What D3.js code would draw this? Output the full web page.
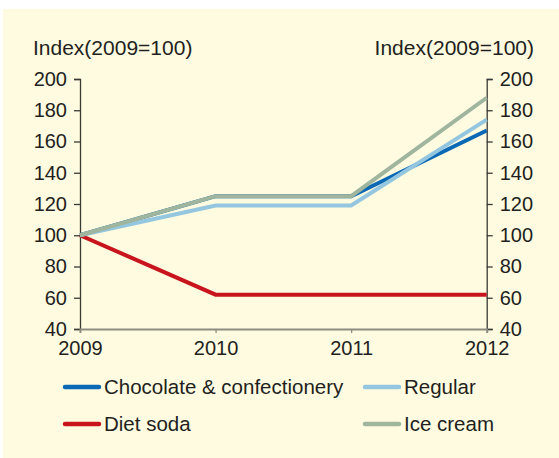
<!DOCTYPE html>
<html>
<head>
<meta charset="utf-8">
<script src="https://cdn.jsdelivr.net/npm/d3@7"></script>
<style>
  html, body { margin: 0; padding: 0; background: #ffffff; }
  svg { display: block; }
  text { font-family: "Liberation Sans", Arial, sans-serif; fill: #231f20; }
</style>
</head>
<body>
<svg id="chart" width="559" height="458"></svg>
<script>
// Price index by product, 2009 = 100
const years = ["2009", "2010", "2011", "2012"];
const chocolate = [100, 125, 125, 167];
const regular = [100, 119, 119, 174];
const dietSoda = [100, 62, 62, 62];
const iceCream = [100, 125, 125, 188];
const yTicks = [40, 60, 80, 100, 120, 140, 160, 180, 200];
const axisTitle = "Index(2009=100)";

const series = [
  { name: "Chocolate & confectionery", values: chocolate, color: "#0a68b4" },
  { name: "Diet soda", values: dietSoda, color: "#c8151d" },
  { name: "Regular", values: regular, color: "#94c6df" },
  { name: "Ice cream", values: iceCream, color: "#9fb59e" }
];

const svg = d3.select("#chart");

// panel background
svg.append("rect")
  .attr("x", 3).attr("y", 9)
  .attr("width", 556).attr("height", 449)
  .attr("fill", "#fefbe0");

const plotLeft = 80, plotRight = 486.7, plotTop = 79, plotBottom = 329;

const x = d3.scalePoint().domain(years).range([plotLeft, plotRight]);
const y = d3.scaleLinear().domain([40, 200]).range([plotBottom, plotTop]);

// left axis
const gl = svg.append("g").attr("transform", `translate(${plotLeft},0)`)
  .call(d3.axisLeft(y).tickValues(yTicks).tickSize(6).tickPadding(7));
// right axis
const gr = svg.append("g").attr("transform", `translate(${plotRight},0)`)
  .call(d3.axisRight(y).tickValues(yTicks).tickSize(6).tickPadding(7));
[gl, gr].forEach(g => {
  g.select(".domain").attr("stroke", "#3a3a36").attr("stroke-width", 1.3);
  g.selectAll(".tick line").attr("stroke", "#3a3a36").attr("stroke-width", 1.3);
  g.selectAll(".tick text")
    .attr("font-size", 20).attr("fill", "#231f20")
    .attr("font-family", "Liberation Sans, Arial, sans-serif");
});

// bottom axis
const gb = svg.append("g").attr("transform", `translate(0,${plotBottom})`)
  .call(d3.axisBottom(x).tickSize(4).tickPadding(8));
gb.select(".domain").attr("stroke", "#8d8c82").attr("stroke-width", 2);
gb.selectAll(".tick line").attr("stroke", "#8d8c82").attr("stroke-width", 1.3)
  .attr("display", (d, i) => (i === 0 || i === years.length - 1) ? "none" : null);
gb.selectAll(".tick text")
  .attr("font-size", 20).attr("fill", "#231f20")
  .attr("font-family", "Liberation Sans, Arial, sans-serif");

// axis titles
svg.append("text").attr("x", 33).attr("y", 55)
  .attr("font-size", 21).text(axisTitle);
svg.append("text").attr("x", 534).attr("y", 55)
  .attr("font-size", 21).attr("text-anchor", "end").text(axisTitle);

// lines
const line = d3.line()
  .x((d, i) => x(years[i]))
  .y(d => y(d));

svg.append("g").selectAll("path")
  .data(series)
  .join("path")
  .attr("d", d => line(d.values))
  .attr("fill", "none")
  .attr("stroke", d => d.color)
  .attr("stroke-width", 4)
  .attr("stroke-linejoin", "miter");

// legend
const legendOrder = [
  { s: series[0], col: 0, row: 0 },
  { s: series[2], col: 1, row: 0 },
  { s: series[1], col: 0, row: 1 },
  { s: series[3], col: 1, row: 1 }
];
const colX = [65, 365], rowY = [387, 424];
const lg = svg.append("g").selectAll("g")
  .data(legendOrder)
  .join("g")
  .attr("transform", d => `translate(${colX[d.col]},${rowY[d.row]})`);
lg.append("line")
  .attr("x1", 0).attr("x2", 34).attr("y1", 0).attr("y2", 0)
  .attr("stroke", d => d.s.color)
  .attr("stroke-width", 4.5)
  .attr("stroke-linecap", "round");
lg.append("text")
  .attr("x", 39).attr("y", 0).attr("dy", "0.35em")
  .attr("font-size", 20.5)
  .text(d => d.s.name);
</script>
</body>
</html>
